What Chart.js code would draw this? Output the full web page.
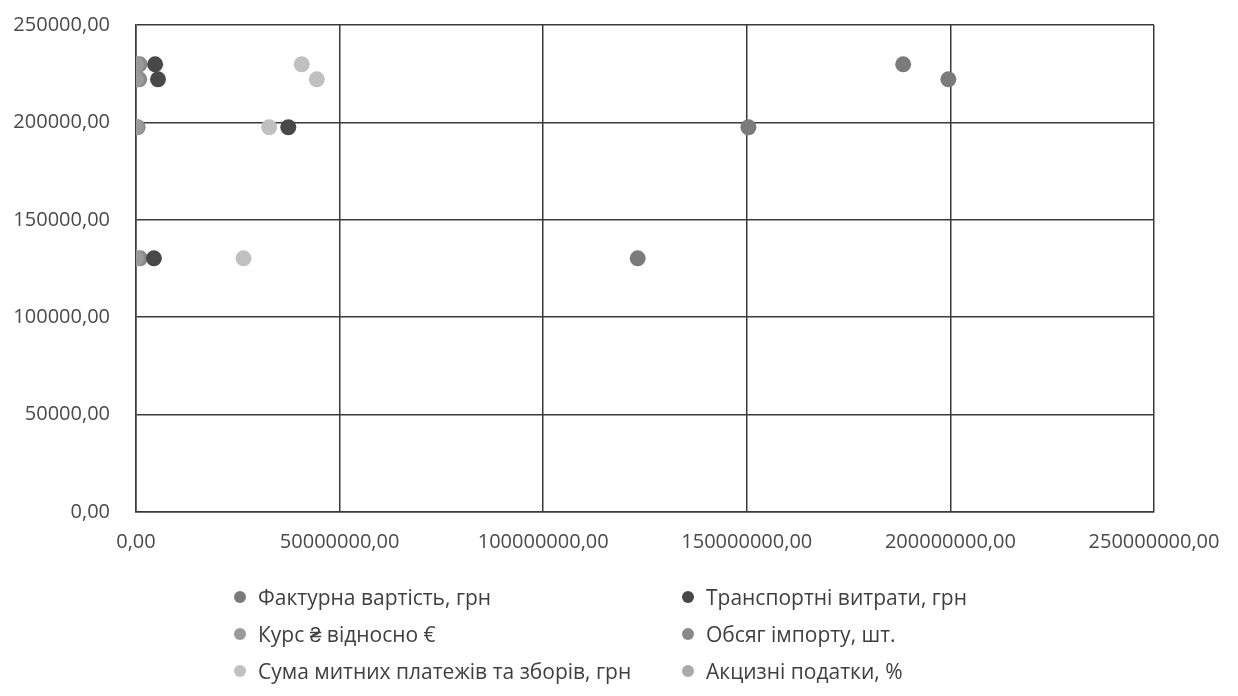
<!DOCTYPE html>
<html lang="uk">
<head>
  <meta charset="UTF-8" />
  <title>Scatter</title>
  <script src="https://cdn.jsdelivr.net/npm/chart.js"></script>
  <style>
    body { margin: 0; background: #fff; font-family: 'Open Sans', sans-serif; }
    #wrap { position: relative; width: 1238px; height: 696px; }
    #chart { position: absolute; left: 0; top: 0; }
    #legend {
      position: absolute; left: 234px; top: 578px;
      display: grid; grid-template-columns: 448px 400px; grid-auto-rows: 37px;
      color: #3f3f3f; font-size: 21px;
    }
    .item { display: flex; align-items: center; white-space: nowrap; }
    .dot { width: 12px; height: 12px; border-radius: 50%; margin-right: 12px; }
  </style>
</head>
<body>
  <div id="wrap">
    <canvas id="chart" width="1238" height="696"></canvas>
    <div id="legend"></div>
  </div>

  <script>
    // спільні значення по осі Y (4 спостереження)
    const yValues = [229800, 222100, 197500, 130200];

    const seriesNames = [
      "Фактурна вартість, грн",
      "Транспортні витрати, грн",
      "Курс ₴ відносно €",
      "Обсяг імпорту, шт.",
      "Сума митних платежів та зборів, грн",
      "Акцизні податки, %"
    ];
    const seriesColors = ["#7b7b7b", "#484848", "#9a9a9a", "#8a8a8a", "#c0c0c0", "#aaaaaa"];

    const fakturna = [188400000, 199500000, 150400000, 123200000];
    const transport = [4700000, 5400000, 37400000, 4400000];
    const kurs = [31, 30, 33, 29];
    const obsyag = [900000, 800000, 400000, 1000000];
    const suma = [40700000, 44400000, 32700000, 26400000];
    const akcyz = [12, 12, 10, 10];

    const xTickValues = [0, 50000000, 100000000, 150000000, 200000000, 250000000];
    const yTickValues = [0, 50000, 100000, 150000, 200000, 250000];

    const seriesX = [fakturna, transport, kurs, obsyag, suma, akcyz];

    const fmt = v => v.toFixed(2).replace(".", ",");

    const datasets = seriesNames.map((name, i) => ({
      label: name,
      data: seriesX[i].map((x, j) => ({ x: x, y: yValues[j] })),
      backgroundColor: seriesColors[i],
      borderWidth: 0,
      pointRadius: 8,
      pointHoverRadius: 8
    }));

    const gridColor = "#3a3a3a";
    const tickFont = { family: "'Open Sans', sans-serif", size: 20 };

    new Chart(document.getElementById("chart"), {
      type: "scatter",
      data: { datasets },
      options: {
        responsive: false,
        animation: false,
        devicePixelRatio: 1,
        layout: { padding: { top: 25, right: 84, bottom: 124, left: 0 } },
        plugins: { legend: { display: false }, tooltip: { enabled: false } },
        scales: {
          x: {
            type: "linear",
            min: 0,
            max: 250000000,
            afterBuildTicks: s => { s.ticks = xTickValues.map(v => ({ value: v })); },
            afterFit: s => { s.height = 60; },
            grid: { color: gridColor, lineWidth: 1.5, drawTicks: false },
            border: { color: gridColor, width: 1.5 },
            ticks: { color: "#4a4a4a", font: tickFont, padding: 18, maxRotation: 0, callback: v => fmt(v) }
          },
          y: {
            type: "linear",
            min: 0,
            max: 250000,
            afterBuildTicks: s => { s.ticks = yTickValues.map(v => ({ value: v })); },
            afterFit: s => { s.width = 136; s.paddingTop = 12; s.paddingBottom = 12; },
            grid: { color: gridColor, lineWidth: 1.5, drawTicks: false },
            border: { color: gridColor, width: 1.5 },
            ticks: { color: "#4a4a4a", font: tickFont, padding: 26, callback: v => fmt(v) }
          }
        }
      }
    });

    // легенда у два стовпці
    const legend = document.getElementById("legend");
    seriesNames.forEach((name, i) => {
      const item = document.createElement("div");
      item.className = "item";
      item.innerHTML = `<span class="dot" style="background:${seriesColors[i]}"></span><span>${name}</span>`;
      legend.appendChild(item);
    });
  </script>
</body>
</html>
